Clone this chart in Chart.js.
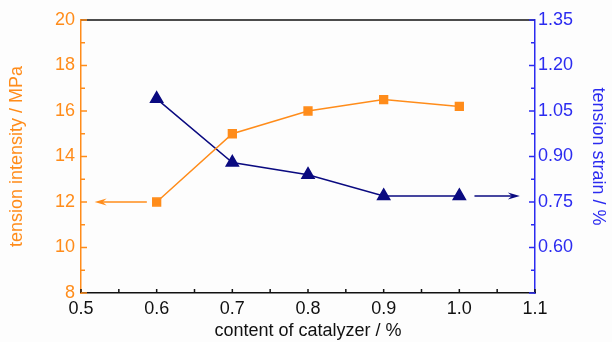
<!DOCTYPE html>
<html>
<head>
<meta charset="utf-8">
<script src="https://cdn.jsdelivr.net/npm/chart.js@4.4.0/dist/chart.umd.min.js"></script>
<style>
  html, body { margin: 0; padding: 0; background: #fdfdfd; }
  #wrap { width: 612px; height: 342px; }
</style>
</head>
<body>
<div id="wrap"><canvas id="chart" width="612" height="342"></canvas></div>
<script>
const catalyzer = [0.6, 0.7, 0.8, 0.9, 1.0];
const intensity = [12, 15, 16, 16.5, 16.2];
const strain = [1.09, 0.88, 0.84, 0.77, 0.77];

const xTicks = [0.5, 0.6, 0.7, 0.8, 0.9, 1.0, 1.1];
const leftTicks = [8, 10, 12, 14, 16, 18, 20];
const rightTicks = [0.45, 0.60, 0.75, 0.90, 1.05, 1.20, 1.35];

// arrows point to which axis each series belongs to: [x from, x to, y]
const orangeArrow = [0.587, 0.518, 12];
const blueArrow = [1.02, 1.08, 0.77];

const ORANGE = '#ff8c1a';
const NAVY = '#0a0a80';
const BLUE = '#2b2bf0';

const framePlugin = {
    id: 'frame',
    afterDatasetsDraw(chart) {
        const { ctx, chartArea: a, scales } = chart;
        const x = scales.x, y = scales.y, y1 = scales.y1;
        ctx.save();
        ctx.lineWidth = 1.5;

        // top border
        ctx.strokeStyle = '#111';
        ctx.beginPath();
        ctx.moveTo(a.left, a.top);
        ctx.lineTo(a.right, a.top);
        ctx.stroke();

        // inward ticks, bottom
        for (let v = 0.5; v <= 1.1001; v += 0.05) {
            const px = x.getPixelForValue(v);
            ctx.beginPath();
            ctx.moveTo(px, a.bottom);
            ctx.lineTo(px, a.bottom - 4);
            ctx.stroke();
        }

        // left ticks
        ctx.strokeStyle = ORANGE;
        for (let v = 8; v <= 20; v += 1) {
            const py = y.getPixelForValue(v);
            ctx.beginPath();
            ctx.moveTo(a.left, py);
            ctx.lineTo(a.left + (v % 2 === 0 ? 6 : 4), py);
            ctx.stroke();
        }

        // right ticks
        ctx.strokeStyle = BLUE;
        for (let i = 0; i <= 12; i++) {
            const v = 0.45 + i * 0.075;
            const py = y1.getPixelForValue(v);
            ctx.beginPath();
            ctx.moveTo(a.right, py);
            ctx.lineTo(a.right - (i % 2 === 0 ? 6 : 4), py);
            ctx.stroke();
        }

        // arrows
        const arrow = (x0, x1, py, color) => {
            const p0 = x.getPixelForValue(x0);
            const p1 = x.getPixelForValue(x1);
            const dir = Math.sign(p1 - p0);
            ctx.strokeStyle = color;
            ctx.fillStyle = color;
            ctx.lineWidth = 1.5;
            ctx.beginPath();
            ctx.moveTo(p0, py);
            ctx.lineTo(p1 - dir * 6, py);
            ctx.stroke();
            ctx.beginPath();
            ctx.moveTo(p1, py);
            ctx.lineTo(p1 - dir * 12, py - 3.5);
            ctx.lineTo(p1 - dir * 8, py);
            ctx.lineTo(p1 - dir * 12, py + 3.5);
            ctx.closePath();
            ctx.fill();
        };
        arrow(orangeArrow[0], orangeArrow[1], y.getPixelForValue(orangeArrow[2]), ORANGE);
        arrow(blueArrow[0], blueArrow[1], y1.getPixelForValue(blueArrow[2]), NAVY);

        ctx.restore();
    }
};

const tickFont = { family: 'Liberation Sans, Arial, sans-serif', size: 18 };
const titleFont = { family: 'Liberation Sans, Arial, sans-serif', size: 18 };

new Chart(document.getElementById('chart').getContext('2d'), {
    type: 'scatter',
    data: {
        datasets: [{
            label: 'tension intensity',
            data: catalyzer.map((c, i) => ({ x: c, y: intensity[i] })),
            showLine: true,
            borderColor: ORANGE,
            backgroundColor: ORANGE,
            borderWidth: 1.5,
            pointStyle: 'rect',
            pointRadius: 5.5,
            pointHoverRadius: 5.5,
            yAxisID: 'y',
        }, {
            label: 'tension strain',
            data: catalyzer.map((c, i) => ({ x: c, y: strain[i] })),
            showLine: true,
            borderColor: NAVY,
            backgroundColor: NAVY,
            borderWidth: 1.5,
            pointStyle: 'triangle',
            pointRadius: 7,
            pointHoverRadius: 7,
            yAxisID: 'y1',
        }]
    },
    options: {
        responsive: false,
        animation: false,
        layout: { padding: { top: 20 } },
        plugins: {
            legend: { display: false },
            tooltip: { enabled: false },
        },
        scales: {
            x: {
                type: 'linear',
                min: 0.5,
                max: 1.1,
                afterBuildTicks: (s) => { s.ticks = xTicks.map(v => ({ value: v })); },
                afterFit: (s) => { s.height = 49; },
                grid: { display: false, drawTicks: false },
                border: { display: true, color: '#111', width: 1.5 },
                ticks: {
                    color: '#111',
                    font: tickFont,
                    padding: 5,
                    maxRotation: 0,
                    callback: (v) => v.toFixed(1),
                },
                title: {
                    display: true,
                    text: 'content of catalyzer / %',
                    color: '#111',
                    font: titleFont,
                    padding: { top: 0, bottom: 0 },
                },
            },
            y: {
                position: 'left',
                min: 8,
                max: 20,
                afterBuildTicks: (s) => { s.ticks = leftTicks.map(v => ({ value: v })); },
                afterFit: (s) => { s.width = 81; },
                grid: { display: false, drawTicks: false },
                border: { display: true, color: ORANGE, width: 1.5 },
                ticks: { color: ORANGE, font: tickFont, padding: 6 },
                title: {
                    display: true,
                    text: 'tension intensity / MPa',
                    color: ORANGE,
                    font: titleFont,
                    padding: { top: 6, bottom: 0 },
                },
            },
            y1: {
                position: 'right',
                min: 0.45,
                max: 1.35,
                afterBuildTicks: (s) => { s.ticks = rightTicks.map(v => ({ value: v })); },
                afterFit: (s) => { s.width = 77; },
                grid: { display: false, drawTicks: false },
                border: { display: true, color: BLUE, width: 1.5 },
                ticks: {
                    color: BLUE,
                    font: tickFont,
                    padding: 3,
                    callback: (v) => (v < 0.5 ? '' : v.toFixed(2)),
                },
                title: {
                    display: true,
                    text: 'tension strain / %',
                    color: BLUE,
                    font: titleFont,
                    padding: { top: 3, bottom: 0 },
                },
            },
        },
    },
    plugins: [framePlugin],
});
</script>
</body>
</html>
